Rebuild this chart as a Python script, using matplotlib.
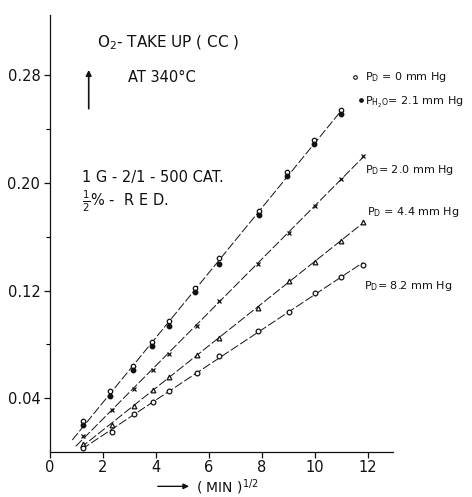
import numpy as np
import matplotlib.pyplot as plt

# x = (time in min)^(1/2), y = O2 take up (cc)
x_top = [1.24, 2.25, 3.14, 3.85, 4.5, 5.48, 6.36, 7.87, 8.96, 9.97, 10.97]
y_pd0 = [0.023, 0.045, 0.064, 0.082, 0.097, 0.122, 0.144, 0.179, 0.208, 0.232, 0.254]
y_h2o = [0.020, 0.042, 0.061, 0.079, 0.094, 0.119, 0.140, 0.176, 0.205, 0.229, 0.251]

x_pts = [1.24, 2.32, 3.18, 3.87, 4.5, 5.53, 6.37, 7.85, 9.0, 10.0, 10.98, 11.82]
y_pd20 = [0.012, 0.031, 0.047, 0.061, 0.073, 0.094, 0.112, 0.140, 0.163, 0.183, 0.203, 0.220]
y_pd44 = [0.006, 0.020, 0.034, 0.046, 0.056, 0.072, 0.085, 0.107, 0.127, 0.141, 0.157, 0.171]
y_pd82 = [0.003, 0.015, 0.028, 0.037, 0.045, 0.059, 0.071, 0.090, 0.104, 0.118, 0.130, 0.139]

# where the hand-drawn lines start and stop
line_x0 = [0.84, 0.97, 1.15, 1.2]
line_x1 = [11.0, 11.85, 11.8, 11.8]

fig = plt.figure(figsize=(4.72, 4.97), dpi=100)
ax = fig.add_axes([0.106, 0.0905, 0.727, 0.88])

ink = '#111111'
dash = (0, (9, 2.5))

# fitted straight lines through each set
for xs, ys, x0, x1 in [(x_top + x_top, y_pd0 + y_h2o, line_x0[0], line_x1[0]),
                       (x_pts, y_pd20, line_x0[1], line_x1[1]),
                       (x_pts, y_pd44, line_x0[2], line_x1[2]),
                       (x_pts, y_pd82, line_x0[3], line_x1[3])]:
    k, b = np.polyfit(xs, ys, 1)
    xx = np.array([x0, x1])
    ax.plot(xx, k * xx + b, color=ink, lw=0.7, linestyle=dash)

ax.plot(x_top, y_pd0, 'o', ms=3.2, mfc='white', mec=ink, mew=0.9)
ax.plot(x_top, y_h2o, 'o', ms=3.2, mfc=ink, mec=ink)
ax.plot(x_pts, y_pd20, 'x', ms=2.8, mec=ink, mew=0.9)
ax.plot(x_pts, y_pd44, '^', ms=3.4, mfc='white', mec=ink, mew=0.9)
ax.plot(x_pts, y_pd82, 'o', ms=3.4, mfc='white', mec=ink, mew=0.9)

ax.set_xlim(0, 12.95)
ax.set_ylim(0, 0.325)
ax.set_xticks([0, 2, 4, 6, 8, 10, 12])
ax.set_xticklabels(['0', '2', '4', '6', '8', '10', '12'])
ax.set_yticks([0.04, 0.12, 0.20, 0.28])
ax.set_yticklabels(['0.04', '0.12', '0.20', '0.28'])
ax.set_yticks([0.08, 0.16, 0.24], minor=True)
ax.tick_params(labelsize=10.5, colors=ink, width=0.9, length=4, pad=3)
ax.tick_params(which='minor', length=3, width=0.8)
ax.tick_params(axis='x', pad=2)
for s in ['top', 'right']:
    ax.spines[s].set_visible(False)
for s in ['left', 'bottom']:
    ax.spines[s].set_linewidth(0.9)
    ax.spines[s].set_color(ink)

# labels inside the chart
ax.text(1.76, 0.304, 'O$_2$- TAKE UP ( CC )', fontsize=11, va='center', color=ink)
ax.text(2.94, 0.278, 'AT 340°C', fontsize=10.5, va='center', color=ink)
ax.annotate('', xy=(1.46, 0.286), xytext=(1.46, 0.253),
            arrowprops=dict(arrowstyle='-|>', color=ink, lw=1.2, mutation_scale=8))
ax.text(1.19, 0.204, '1 G - 2/1 - 500 CAT.', fontsize=10.5, va='center', color=ink)
ax.text(1.19, 0.186, r'$\frac{1}{2}$% -  R E D.', fontsize=10.5, va='center', color=ink)

ax.plot([11.5], [0.2785], 'o', ms=2.6, mfc='white', mec=ink, mew=0.8, clip_on=False)
ax.text(11.9, 0.2785, 'P$_\\mathrm{D}$ = 0 mm Hg', fontsize=8, va='center', color=ink)
ax.plot([11.72], [0.2615], 'o', ms=2.4, mfc=ink, mec=ink, clip_on=False)
ax.text(11.9, 0.2600, 'P$_\\mathrm{H_2O}$= 2.1 mm Hg', fontsize=8, va='center', color=ink)
ax.text(11.9, 0.2095, 'P$_\\mathrm{D}$= 2.0 mm Hg', fontsize=8, va='center', color=ink)
ax.text(11.98, 0.1785, 'P$_\\mathrm{D}$ = 4.4 mm Hg', fontsize=8, va='center', color=ink)
ax.text(11.84, 0.1235, 'P$_\\mathrm{D}$= 8.2 mm Hg', fontsize=8, va='center', color=ink)

# x axis caption with arrow
ax.annotate('', xy=(5.35, -0.0255), xytext=(3.96, -0.0255), annotation_clip=False,
            arrowprops=dict(arrowstyle='-|>', color=ink, lw=1.0, mutation_scale=8))
ax.text(5.5, -0.0262, '( MIN )$^{1/2}$', fontsize=10, va='center', color=ink, clip_on=False)

fig.savefig('out.png', dpi=100)
